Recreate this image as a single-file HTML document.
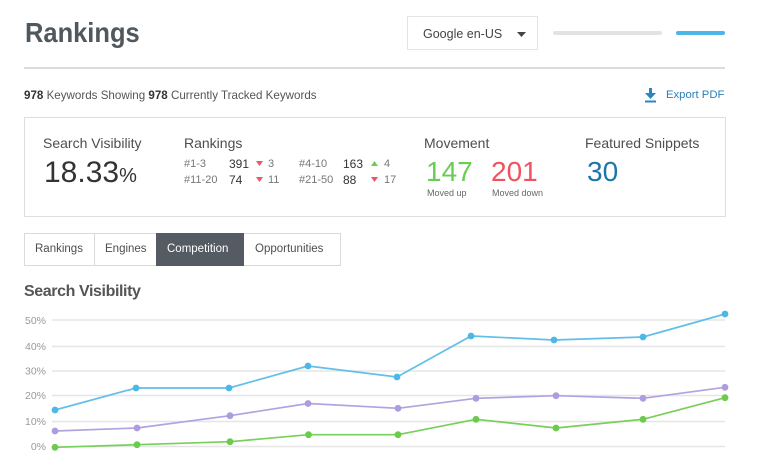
<!DOCTYPE html>
<html><head><meta charset="utf-8">
<style>
html,body{margin:0;padding:0;background:#fff;}
body{width:765px;height:475px;position:relative;overflow:hidden;font-family:"Liberation Sans",sans-serif;color:#555;}
.a{position:absolute;white-space:nowrap;line-height:1;}
</style></head><body>

<div class="a" style="left:25px;top:19px;font-size:28px;font-weight:bold;color:#50575d;transform:scaleX(0.91);transform-origin:0 0;">Rankings</div>

<div class="a" style="left:407px;top:16px;width:131px;height:34px;border:1px solid #e4e4e4;box-sizing:border-box;"></div>
<div class="a" style="left:423px;top:28px;font-size:12.5px;color:#444;">Google en-US</div>
<svg class="a" style="left:516px;top:31px" width="12" height="8"><polygon points="1,1 10,1 5.5,6" fill="#444"/></svg>

<div class="a" style="left:553px;top:31px;width:109px;height:4px;border-radius:2px;background:#e2e3e4;"></div>
<div class="a" style="left:676px;top:31px;width:49px;height:4px;border-radius:2px;background:#4cb6e8;"></div>

<div class="a" style="left:24px;top:67px;width:701px;height:2px;background:#dcdcdc;"></div>

<div class="a" style="left:24px;top:90px;font-size:11.6px;color:#555;"><b style="color:#333">978</b> Keywords Showing <b style="color:#333">978</b> Currently Tracked Keywords</div>

<svg class="a" style="left:644px;top:88px" width="14" height="15"><rect x="5" y="0" width="3" height="6" fill="#2a86c0"/><polygon points="1,5 12,5 6.5,11" fill="#2a86c0"/><rect x="1" y="12.5" width="11" height="2" fill="#2a86c0"/></svg>
<div class="a" style="left:666px;top:90px;font-size:11.3px;color:#2a7fb8;">Export PDF</div>

<div class="a" style="left:24px;top:117px;width:702px;height:100px;border:1px solid #dedede;box-sizing:border-box;"></div>

<div class="a" style="left:43px;top:136px;font-size:14px;color:#4e4e4e;">Search Visibility</div>
<div class="a" style="left:44px;top:158px;font-size:30px;color:#333;">18.33<span style="font-size:20px">%</span></div>

<div class="a" style="left:184px;top:136px;font-size:14px;color:#4e4e4e;">Rankings</div>

<div class="a" style="left:184px;top:159px;font-size:11px;color:#777;">#1-3</div>
<div class="a" style="left:229px;top:158px;font-size:12px;color:#333;">391</div>
<svg class="a" style="left:256px;top:161px" width="8" height="6"><polygon points="0,0 7,0 3.5,5" fill="#f05464"/></svg>
<div class="a" style="left:268px;top:159px;font-size:11px;color:#777;">3</div>
<div class="a" style="left:299px;top:159px;font-size:11px;color:#777;">#4-10</div>
<div class="a" style="left:343px;top:158px;font-size:12px;color:#333;">163</div>
<svg class="a" style="left:371px;top:161px" width="8" height="6"><polygon points="0,5 7,5 3.5,0" fill="#6dcb58"/></svg>
<div class="a" style="left:384px;top:159px;font-size:11px;color:#777;">4</div>

<div class="a" style="left:184px;top:175px;font-size:11px;color:#777;">#11-20</div>
<div class="a" style="left:229px;top:174px;font-size:12px;color:#333;">74</div>
<svg class="a" style="left:256px;top:177px" width="8" height="6"><polygon points="0,0 7,0 3.5,5" fill="#f05464"/></svg>
<div class="a" style="left:268px;top:175px;font-size:11px;color:#777;">11</div>
<div class="a" style="left:299px;top:175px;font-size:11px;color:#777;">#21-50</div>
<div class="a" style="left:343px;top:174px;font-size:12px;color:#333;">88</div>
<svg class="a" style="left:371px;top:177px" width="8" height="6"><polygon points="0,0 7,0 3.5,5" fill="#f05464"/></svg>
<div class="a" style="left:384px;top:175px;font-size:11px;color:#777;">17</div>

<div class="a" style="left:424px;top:136px;font-size:14px;color:#4e4e4e;">Movement</div>
<div class="a" style="left:426px;top:158px;font-size:28px;color:#6acb55;">147</div>
<div class="a" style="left:491px;top:158px;font-size:28px;color:#f2515f;">201</div>
<div class="a" style="left:427px;top:189px;font-size:9px;color:#666;">Moved up</div>
<div class="a" style="left:492px;top:189px;font-size:9px;color:#666;">Moved down</div>

<div class="a" style="left:585px;top:136px;font-size:14px;color:#4e4e4e;">Featured Snippets</div>
<div class="a" style="left:587px;top:158px;font-size:28px;color:#1c76a8;">30</div>

<div class="a" style="left:24px;top:233px;width:317px;height:33px;border:1px solid #dadada;box-sizing:border-box;"></div>
<div class="a" style="left:94px;top:233px;width:1px;height:33px;background:#dadada;"></div>
<div class="a" style="left:156px;top:233px;width:88px;height:33px;background:#545b62;"></div>
<div class="a" style="left:35px;top:244px;font-size:11.5px;color:#4e4e4e;">Rankings</div>
<div class="a" style="left:105px;top:244px;font-size:11.5px;color:#4e4e4e;">Engines</div>
<div class="a" style="left:167px;top:244px;font-size:11.5px;color:#fff;">Competition</div>
<div class="a" style="left:255px;top:244px;font-size:11.5px;color:#4e4e4e;">Opportunities</div>

<div class="a" style="left:24px;top:284px;font-size:16px;font-weight:bold;color:#555;letter-spacing:-0.4px;">Search Visibility</div>

<svg class="a" style="left:0;top:0" width="765" height="475">
<g stroke="#e6e6e6" stroke-width="1.6">
<line x1="52" y1="320" x2="725" y2="320"/>
<line x1="52" y1="346.5" x2="725" y2="346.5"/>
<line x1="52" y1="371" x2="725" y2="371"/>
<line x1="52" y1="395.5" x2="725" y2="395.5"/>
<line x1="52" y1="421.5" x2="725" y2="421.5"/>
<line x1="52" y1="446.5" x2="725" y2="446.5"/>
</g>
<g font-family="Liberation Sans, sans-serif" font-size="10.5" fill="#999" text-anchor="end">
<text x="46" y="324">50%</text>
<text x="46" y="350">40%</text>
<text x="46" y="374.5">30%</text>
<text x="46" y="399">20%</text>
<text x="46" y="425">10%</text>
<text x="46" y="450">0%</text>
</g>
<g fill="none" stroke-width="1.7" stroke-linejoin="round">
<polyline stroke="#62bfe8" points="55,410 136,388 229,388 308,366 397,377 471,336 554,340 643,337 725,314"/>
<polyline stroke="#b3a2e2" points="55,431 137,428 230,415.7 308,403.5 398,408.3 476,398.3 556,395.7 643,398.3 725,387.3"/>
<polyline stroke="#78cf5a" points="55,447.3 137,444.7 230,441.7 308.5,434.7 398,434.7 476,419.3 556,428 643,419.3 725,397.7"/>
</g>
<g fill="#4db8e8">
<circle cx="55" cy="410" r="3.4"/><circle cx="136" cy="388" r="3.4"/><circle cx="229" cy="388" r="3.4"/><circle cx="308" cy="366" r="3.4"/><circle cx="397" cy="377" r="3.4"/><circle cx="471" cy="336" r="3.4"/><circle cx="554" cy="340" r="3.4"/><circle cx="643" cy="337" r="3.4"/><circle cx="725" cy="314" r="3.4"/>
</g>
<g fill="#ae9ce0">
<circle cx="55" cy="431" r="3.4"/><circle cx="137" cy="428" r="3.4"/><circle cx="230" cy="415.7" r="3.4"/><circle cx="308" cy="403.5" r="3.4"/><circle cx="398" cy="408.3" r="3.4"/><circle cx="476" cy="398.3" r="3.4"/><circle cx="556" cy="395.7" r="3.4"/><circle cx="643" cy="398.3" r="3.4"/><circle cx="725" cy="387.3" r="3.4"/>
</g>
<g fill="#6cca4c">
<circle cx="55" cy="447.3" r="3.4"/><circle cx="137" cy="444.7" r="3.4"/><circle cx="230" cy="441.7" r="3.4"/><circle cx="308.5" cy="434.7" r="3.4"/><circle cx="398" cy="434.7" r="3.4"/><circle cx="476" cy="419.3" r="3.4"/><circle cx="556" cy="428" r="3.4"/><circle cx="643" cy="419.3" r="3.4"/><circle cx="725" cy="397.7" r="3.4"/>
</g>
</svg>

</body></html>
